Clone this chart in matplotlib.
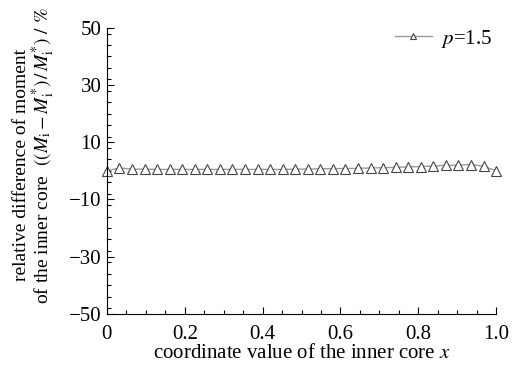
import matplotlib
matplotlib.use('Agg')
import matplotlib.pyplot as plt
import numpy as np
from matplotlib.ticker import MultipleLocator

plt.rcParams['font.family'] = ['Liberation Serif', 'DejaVu Serif']
plt.rcParams['mathtext.fontset'] = 'stix'

# data (32 points over the inner core)
x = np.linspace(0, 1, 32)
diff = [0.0, 1.0, 0.6, 0.6, 0.5, 0.5, 0.5, 0.5, 0.5, 0.5, 0.5, 0.5, 0.5, 0.5, 0.5, 0.6,
        0.6, 0.7, 0.8, 0.8, 0.9, 1.0, 1.1, 1.2, 1.4, 1.5, 1.7, 1.9, 2.0, 2.2, 1.6, 0.0]
series_label = '$p$=1.5'

fig = plt.figure(figsize=(5.19, 3.71), dpi=100)
ax = fig.add_axes([0.206, 0.154, 0.75, 0.771])

ax.plot(x, diff, color='#9a9a9a', linewidth=1.0, marker='^', markersize=7,
        markerfacecolor='white', markeredgecolor='#444444', markeredgewidth=0.8,
        label=series_label, clip_on=False)

ax.set_xlim(0, 1.0)
ax.set_ylim(-50, 50)
ax.xaxis.set_minor_locator(MultipleLocator(0.05))
ax.yaxis.set_minor_locator(MultipleLocator(4))
ax.set_xticks([0, 0.2, 0.4, 0.6, 0.8, 1.0])
ax.set_xticklabels(['0', '0.2', '0.4', '0.6', '0.8', '1.0'])
ax.set_yticks([-50, -30, -10, 10, 30, 50])
ax.set_yticklabels(['\u221250', '\u221230', '\u221210', '10', '30', '50'])

for s in ['top', 'right']:
    ax.spines[s].set_visible(False)
ax.tick_params(which='both', direction='in', labelsize=15, width=0.8)
ax.tick_params(which='major', length=5)
ax.tick_params(which='minor', length=3)
ax.tick_params(axis='x', pad=8)
ax.tick_params(axis='y', pad=4)

ax.set_xlabel('coordinate value of the inner core $x$', fontsize=15, labelpad=0)

# two-line y label, each line placed on its own
fig.text(22 / 519, 1 - 165 / 371, 'relative difference of moment',
         rotation=90, ha='center', va='center', fontsize=14)
fig.text(43 / 519, 1 - 156 / 371,
         'of the inner core  $((M_{\\mathrm{i}}-M_{\\mathrm{i}}^{*})\\,/\\,M_{\\mathrm{i}}^{*})\\ /\\ \\%$',
         rotation=90, ha='center', va='center', fontsize=14)

ax.legend(loc='upper right', frameon=False, fontsize=15, handlelength=1.8,
          handletextpad=0.4, markerscale=0.7,
          borderaxespad=0.0, bbox_to_anchor=(1.01, 1.03))

fig.savefig('out.png', dpi=100)
